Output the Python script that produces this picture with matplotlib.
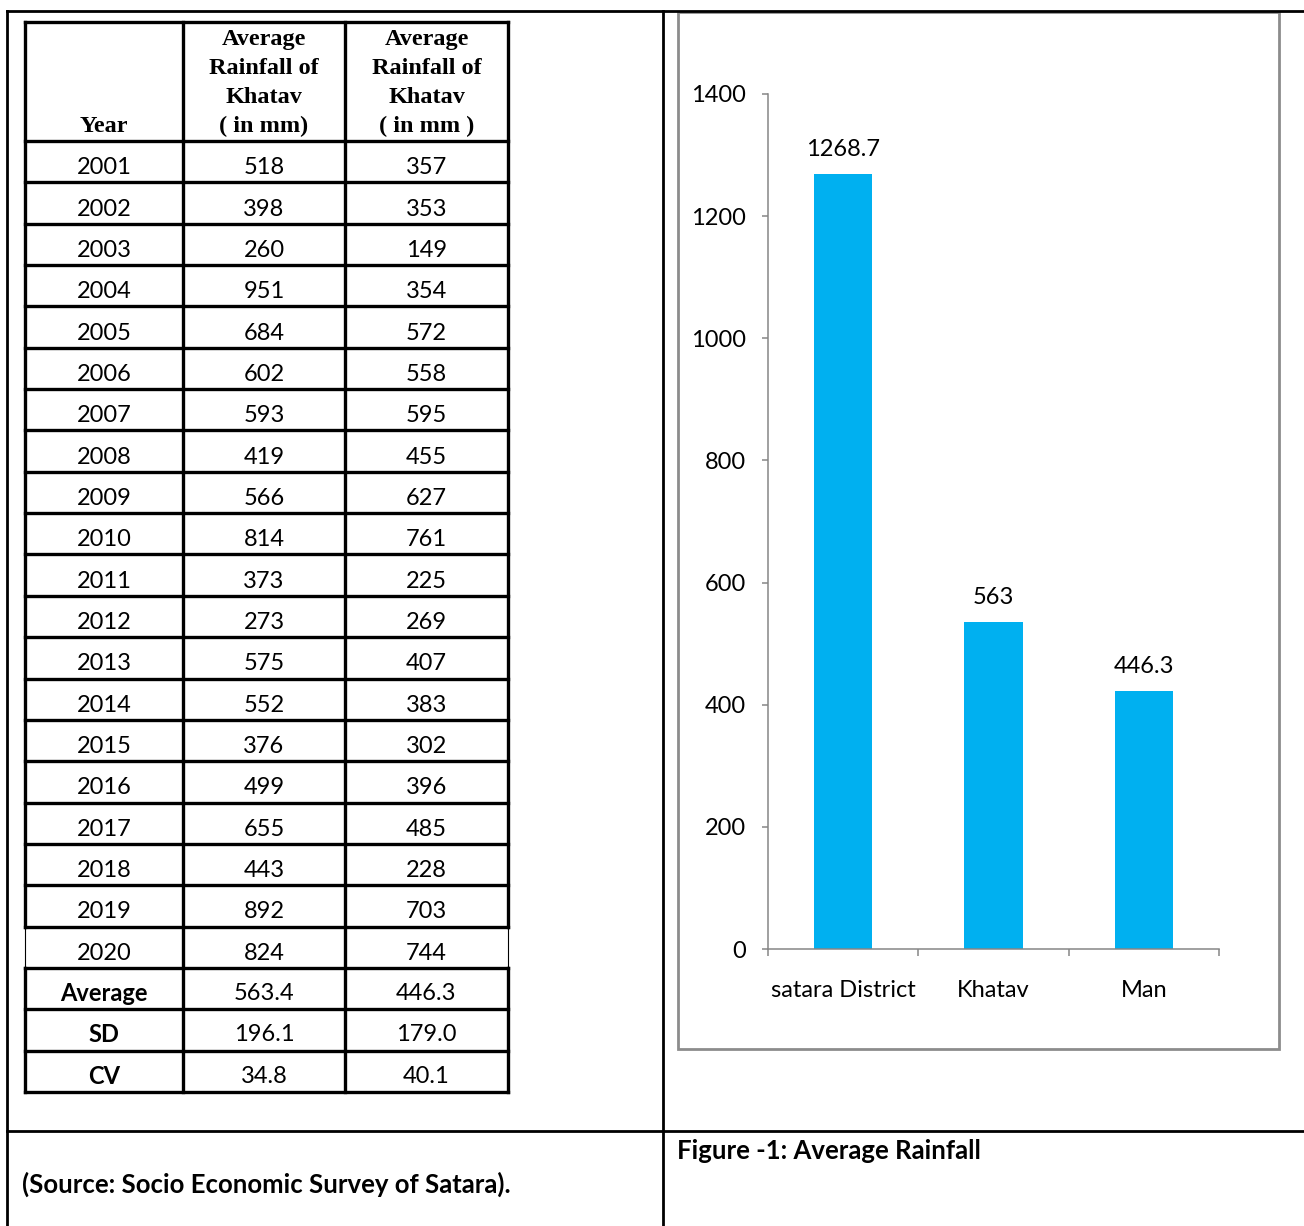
import matplotlib
matplotlib.use("Agg")
import matplotlib.pyplot as plt
from matplotlib.patches import Rectangle

# table data
years = ["2001", "2002", "2003", "2004", "2005", "2006", "2007", "2008", "2009", "2010",
         "2011", "2012", "2013", "2014", "2015", "2016", "2017", "2018", "2019", "2020"]
khatav_rain = [518, 398, 260, 951, 684, 602, 593, 419, 566, 814,
               373, 273, 575, 552, 376, 499, 655, 443, 892, 824]
second_rain = [357, 353, 149, 354, 572, 558, 595, 455, 627, 761,
               225, 269, 407, 383, 302, 396, 485, 228, 703, 744]
stat_names = ["Average", "SD", "CV"]
stat_col2 = ["563.4", "196.1", "34.8"]
stat_col3 = ["446.3", "179.0", "40.1"]
header_col2 = ["Average", "Rainfall of", "Khatav", "( in mm)"]
header_col3 = ["Average", "Rainfall of", "Khatav", "( in mm )"]

# chart data
regions = ["satara District", "Khatav", "Man"]
bar_heights = [1268.7, 535, 422]
bar_labels = ["1268.7", "563", "446.3"]
y_ticks = [0, 200, 400, 600, 800, 1000, 1200, 1400]

W, H = 1304, 1226
body_font = "Lato"
head_font = "Liberation Serif"
fs = 17
fs_bold = 18.5
fs_head = 17.5
bar_color = "#00B0F0"
axis_gray = "#868686"

fig = plt.figure(figsize=(W / 100, H / 100), dpi=100)
bg = fig.add_axes([0, 0, 1, 1])
bg.set_xlim(0, W)
bg.set_ylim(H, 0)
bg.axis("off")

# outer frame of the page table
frame_lw = 2.0
bg.plot([7, W], [11, 11], color="black", lw=frame_lw)
bg.plot([7, 7], [11, H], color="black", lw=frame_lw)
bg.plot([663, 663], [11, H], color="black", lw=frame_lw)
bg.plot([7, W], [1131, 1131], color="black", lw=frame_lw)

# data table
x_edges = [25, 183, 345, 508]
col_mid = [(x_edges[i] + x_edges[i + 1]) / 2 for i in range(3)]
top, head_bottom, bottom = 22, 141, 1092
n_rows = len(years) + len(stat_names)
row_h = (bottom - head_bottom) / n_rows
tlw = 2.4

bg.plot([x_edges[0], x_edges[-1]], [top, top], color="black", lw=tlw)
bg.plot([x_edges[0], x_edges[-1]], [head_bottom, head_bottom], color="black", lw=tlw)
for i in range(n_rows):
    y_b = head_bottom + (i + 1) * row_h
    bg.plot([x_edges[0], x_edges[-1]], [y_b, y_b], color="black", lw=tlw)
for j, xe in enumerate(x_edges):
    if j in (0, 3):
        # 2020 row has thin outer borders
        y20a = head_bottom + 19 * row_h
        y20b = head_bottom + 20 * row_h
        bg.plot([xe, xe], [top, y20a], color="black", lw=tlw)
        bg.plot([xe, xe], [y20a, y20b], color="black", lw=0.8)
        bg.plot([xe, xe], [y20b, bottom], color="black", lw=tlw)
    else:
        bg.plot([xe, xe], [top, bottom], color="black", lw=tlw)

# header text
bg.text(col_mid[0], 126, "Year", ha="center", va="center", fontsize=fs_head,
        fontweight="bold", family=head_font)
for k, (a, b) in enumerate(zip(header_col2, header_col3)):
    y = 40 + k * 28.7
    bg.text(col_mid[1], y, a, ha="center", va="center", fontsize=fs_head,
            fontweight="bold", family=head_font)
    bg.text(col_mid[2], y, b, ha="center", va="center", fontsize=fs_head,
            fontweight="bold", family=head_font)

# body rows
for i, (yr, a, b) in enumerate(zip(years, khatav_rain, second_rain)):
    y = head_bottom + (i + 0.5) * row_h + 6
    bg.text(col_mid[0], y, yr, ha="center", va="center", fontsize=fs, family=body_font)
    bg.text(col_mid[1], y, str(a), ha="center", va="center", fontsize=fs, family=body_font)
    bg.text(col_mid[2], y, str(b), ha="center", va="center", fontsize=fs, family=body_font)
for i, (nm, a, b) in enumerate(zip(stat_names, stat_col2, stat_col3)):
    y = head_bottom + (len(years) + i + 0.5) * row_h + 5
    bg.text(col_mid[0], y, nm, ha="center", va="center", fontsize=fs,
            fontweight="bold", family=body_font)
    bg.text(col_mid[1], y, a, ha="center", va="center", fontsize=fs, family=body_font)
    bg.text(col_mid[2], y, b, ha="center", va="center", fontsize=fs, family=body_font)

bg.text(22, 1184, "(Source: Socio Economic Survey of Satara).", ha="left", va="center",
        fontsize=fs_bold, fontweight="bold", family=body_font)
bg.text(677, 1151, "Figure -1: Average Rainfall", ha="left", va="center",
        fontsize=fs_bold, fontweight="bold", family=body_font)

# chart area border
bg.add_patch(Rectangle((678, 12), 601, 1037, fill=False, edgecolor="#8c8c8c", lw=2.0))

# bar chart
ax_l, ax_r, ax_t, ax_b = 768, 1219, 94, 949
ax = fig.add_axes([ax_l / W, 1 - ax_b / H, (ax_r - ax_l) / W, (ax_b - ax_t) / H])
ax.patch.set_alpha(0)
centers = [i + 0.5 for i in range(len(regions))]
ax.bar(centers, bar_heights, width=0.39, color=bar_color, zorder=2)
for c, h, lab in zip(centers, bar_heights, bar_labels):
    ax.annotate(lab, (c, h), xytext=(0, 10), textcoords="offset points",
                ha="center", va="bottom", fontsize=fs, family=body_font)
ax.set_xlim(0, len(regions))
ax.set_ylim(0, 1400)
ax.set_yticks(y_ticks)
ax.set_yticklabels([str(t) for t in y_ticks], fontsize=fs, family=body_font)
ax.set_xticks(range(len(regions) + 1))
ax.set_xticklabels([])
ax.set_xticks(centers, minor=True)
ax.set_xticklabels(regions, minor=True, fontsize=fs, family=body_font)
ax.tick_params(axis="x", which="major", direction="out", length=5, color=axis_gray, width=1.1)
ax.tick_params(axis="x", which="minor", length=0, pad=22)
ax.tick_params(axis="y", direction="out", length=4, color=axis_gray, width=1.1, pad=12)
for s in ("top", "right"):
    ax.spines[s].set_visible(False)
for s in ("left", "bottom"):
    ax.spines[s].set_color(axis_gray)
    ax.spines[s].set_linewidth(1.1)

fig.savefig("out.png", dpi=100)
